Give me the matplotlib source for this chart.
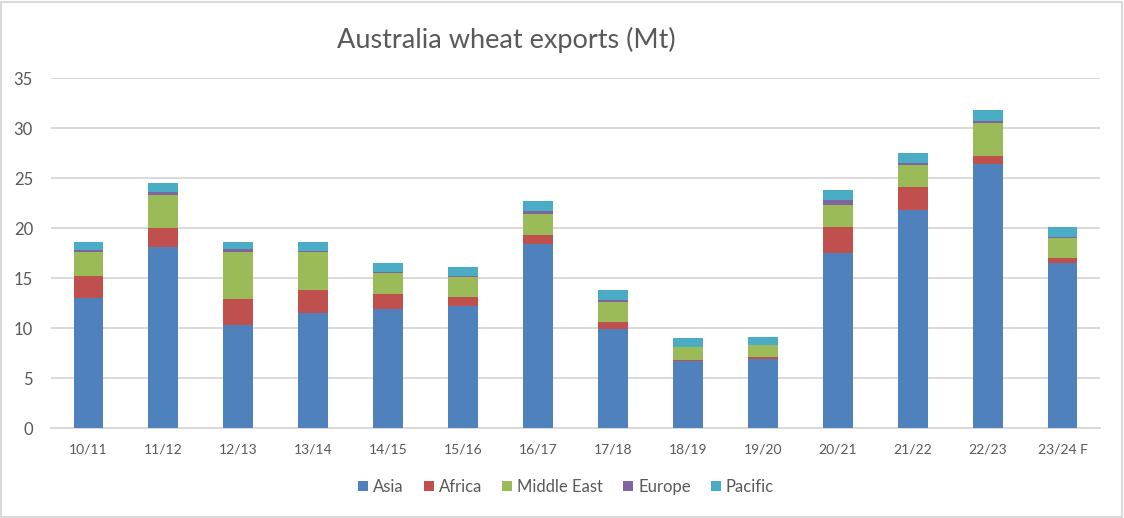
import numpy as np
import matplotlib
matplotlib.use('Agg')
import matplotlib.pyplot as plt
from matplotlib.patches import Rectangle

# Data (Mt)
seasons = ['10/11', '11/12', '12/13', '13/14', '14/15', '15/16', '16/17',
           '17/18', '18/19', '19/20', '20/21', '21/22', '22/23', '23/24 F']
asia = [13.0, 18.1, 10.3, 11.5, 11.9, 12.2, 18.4, 9.9, 6.7, 6.9, 17.5, 21.8, 26.4, 16.5]
africa = [2.2, 1.9, 2.6, 2.3, 1.5, 0.9, 0.9, 0.7, 0.1, 0.2, 2.6, 2.3, 0.8, 0.5]
middle_east = [2.4, 3.3, 4.7, 3.8, 2.1, 2.0, 2.1, 2.0, 1.3, 1.2, 2.2, 2.2, 3.3, 2.0]
europe = [0.2, 0.3, 0.3, 0.1, 0.1, 0.1, 0.3, 0.2, 0.05, 0.05, 0.5, 0.2, 0.2, 0.1]
pacific = [0.8, 0.9, 0.7, 0.9, 0.9, 0.9, 1.0, 1.0, 0.85, 0.75, 1.0, 1.0, 1.1, 1.0]

series = [('Asia', asia, '#4F81BD'),
          ('Africa', africa, '#C0504D'),
          ('Middle East', middle_east, '#9BBB59'),
          ('Europe', europe, '#8064A2'),
          ('Pacific', pacific, '#4BACC6')]

plt.rcParams['font.family'] = ['Lato', 'DejaVu Sans']

fig = plt.figure(figsize=(11.24, 5.18), dpi=100)
ax = fig.add_axes([0.0454, 0.1737, 0.9332, 0.6757])

x = np.arange(len(seasons))
bottom = np.zeros(len(seasons))
for name, vals, col in series:
    ax.bar(x, vals, width=0.4, bottom=bottom, color=col, label=name, zorder=3)
    bottom += np.array(vals)

ax.set_xlim(-0.5, len(seasons) - 0.5)
ax.set_ylim(0, 35)
ax.set_yticks(range(0, 36, 5))
ax.set_xticks(x)
ax.set_xticklabels(seasons)
ax.grid(axis='y', color='#D9D9D9', linewidth=1.4, zorder=0)
for s in ['top', 'right', 'left']:
    ax.spines[s].set_visible(False)
ax.spines['bottom'].set_color('#D9D9D9')
ax.spines['bottom'].set_linewidth(1.4)
ax.tick_params(axis='both', length=0, colors='#595959')
ax.tick_params(axis='y', labelsize=12, pad=13)
ax.tick_params(axis='x', labelsize=10, pad=11)

fig.text(506 / 1124, 1 - 40 / 518, 'Australia wheat exports (Mt)',
         ha='center', va='center', fontsize=19.5, color='#595959')

ax.legend(loc='center', bbox_to_anchor=(566 / 1124, 1 - 487 / 518),
          bbox_transform=fig.transFigure, ncol=5, frameon=False,
          fontsize=12, labelcolor='#595959', handlelength=0.6, handleheight=0.6,
          handletextpad=0.3, columnspacing=1.2)

fig.add_artist(Rectangle((0.001, 0.002), 0.997, 0.995, transform=fig.transFigure,
                         fill=False, edgecolor='#D9D9D9', linewidth=1.5))

fig.savefig('out.png', dpi=100)
